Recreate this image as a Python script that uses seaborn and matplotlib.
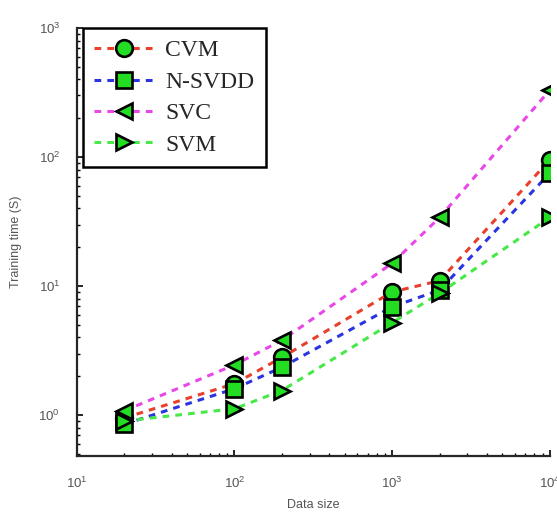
import matplotlib
matplotlib.use("Agg")
import matplotlib.pyplot as plt
import seaborn as sns
import pandas as pd

# values (log-log)
data_size = [20, 100, 200, 1000, 2000, 10000]
cvm = [0.95, 1.75, 2.8, 9.0, 11.0, 95]
nsvdd = [0.85, 1.6, 2.35, 6.9, 9.3, 75]
svc = [1.08, 2.45, 3.8, 15.0, 34.0, 330]
svm = [0.9, 1.12, 1.55, 5.2, 8.8, 34]

methods = ["CVM", "N-SVDD", "SVC", "SVM"]
series = [cvm, nsvdd, svc, svm]
line_colors = ["#e8402c", "#2a35e0", "#e848e8", "#48e848"]
markers = ["o", "s", "<", ">"]

sns.set_style("ticks")
plt.rcParams["font.family"] = ["Liberation Sans", "DejaVu Sans"]

fig = plt.figure(figsize=(5.57, 5.19), dpi=100)
ax = fig.add_axes([0.138, 0.121, 0.849, 0.825])

for name, vals, col, mk in zip(methods, series, line_colors, markers):
    df = pd.DataFrame({"size": data_size, "time": vals})
    sns.lineplot(data=df, x="size", y="time", ax=ax, label=name,
                 color=col, linestyle=(0, (2.2, 2.0)), linewidth=2.2,
                 marker=mk, markersize=12, markerfacecolor="#22dd22",
                 markeredgecolor="black", markeredgewidth=1.9)

ax.set_xscale("log")
ax.set_yscale("log")
ax.set_xlim(10, 1e4)
ax.set_ylim(0.48, 1000)

sns.despine(ax=ax, top=True, right=True)
ax.spines["left"].set_linewidth(1.6)
ax.spines["bottom"].set_linewidth(1.6)
ax.tick_params(which="both", direction="in", colors="black", labelcolor="#555555",
               labelsize=9.5)
ax.tick_params(which="major", length=4, width=1.2)
ax.tick_params(which="minor", length=2.5, width=1.0)
ax.tick_params(axis="x", which="major", pad=14)
ax.tick_params(axis="y", which="major", pad=12)

ax.set_xlabel("Data size", fontsize=9, color="#555555", labelpad=6)
ax.set_ylabel("Training time (S)", fontsize=9, color="#555555", labelpad=12)

leg = ax.legend(loc="upper left", bbox_to_anchor=(0.012, 1.0), borderaxespad=0,
                frameon=True, fancybox=False, framealpha=1, edgecolor="black",
                prop={"family": "Liberation Serif", "size": 17},
                handlelength=2.5, handletextpad=0.5, labelspacing=0.42,
                borderpad=0.5)
leg.get_frame().set_linewidth(1.8)

fig.savefig("out.png", dpi=100)
